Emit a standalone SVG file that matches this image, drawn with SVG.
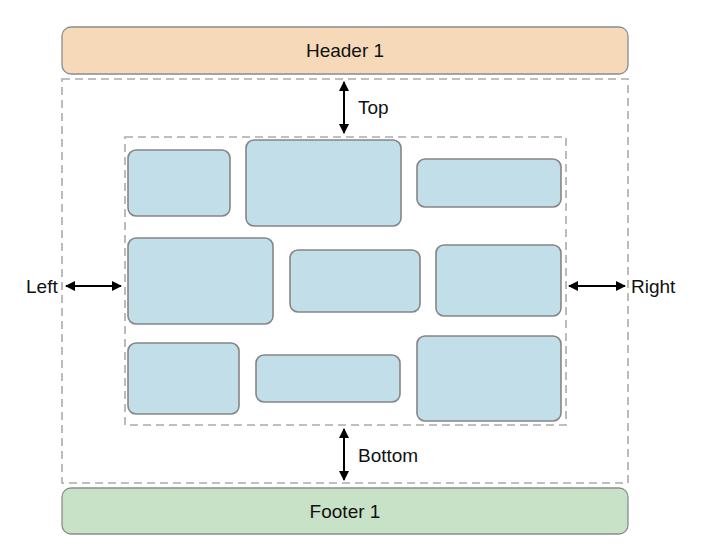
<svg xmlns="http://www.w3.org/2000/svg" width="702" height="560" viewBox="0 0 702 560">
<style>
text{font-family:"Liberation Sans",Arial,sans-serif;font-size:19px;fill:#111}
.bar{stroke:#8c8c8c;stroke-width:1.3}
.box{fill:#c2dfe9;stroke:#858585;stroke-width:1.6}
.dash{fill:none;stroke:#ababab;stroke-width:1.6;stroke-dasharray:8,5}
.arr{stroke:#000;stroke-width:2;fill:none;marker-start:url(#ah);marker-end:url(#ah)}
</style>
<defs>
<marker id="ah" viewBox="0 0 10 10" refX="9" refY="5" markerWidth="13" markerHeight="10" markerUnits="userSpaceOnUse" orient="auto-start-reverse">
<path d="M0,0 L10,5 L0,10 z" fill="#000"/>
</marker>
</defs>
<rect width="702" height="560" fill="#fff"/>
<g id="header"><rect class="bar" x="62" y="27" width="566" height="47" rx="9" fill="#f6d9b9"/><text x="345" y="57" text-anchor="middle">Header 1</text></g>
<g id="footer"><rect class="bar" x="62" y="488" width="566" height="46" rx="9" fill="#c8e2c8"/><text x="345" y="518" text-anchor="middle">Footer 1</text></g>
<g id="outer"><rect class="dash" x="62" y="79" width="566" height="404"/></g>
<g id="inner"><rect class="dash" x="125" y="137" width="441" height="288"/></g>
<g id="b1"><rect class="box" x="128" y="150" width="102" height="66" rx="8"/></g>
<g id="b2"><rect class="box" x="246" y="140" width="155" height="86" rx="8"/></g>
<g id="b3"><rect class="box" x="417" y="159" width="144" height="48" rx="8"/></g>
<g id="b4"><rect class="box" x="128" y="238" width="145" height="86" rx="8"/></g>
<g id="b5"><rect class="box" x="290" y="250" width="130" height="62" rx="8"/></g>
<g id="b6"><rect class="box" x="436" y="245" width="125" height="71" rx="8"/></g>
<g id="b7"><rect class="box" x="128" y="343" width="111" height="71" rx="8"/></g>
<g id="b8"><rect class="box" x="256" y="355" width="144" height="47" rx="8"/></g>
<g id="b9"><rect class="box" x="417" y="336" width="144" height="85" rx="8"/></g>
<g id="connectors">
<line class="arr" x1="344" y1="82" x2="344" y2="133"/>
<line class="arr" x1="344" y1="429" x2="344" y2="480"/>
<line class="arr" x1="66" y1="286" x2="121" y2="286"/>
<line class="arr" x1="569" y1="286" x2="625" y2="286"/>
</g>
<g id="labels">
<text x="358" y="114">Top</text>
<text x="358" y="462">Bottom</text>
<text x="26" y="293">Left</text>
<text x="631" y="293">Right</text>
</g>
</svg>
